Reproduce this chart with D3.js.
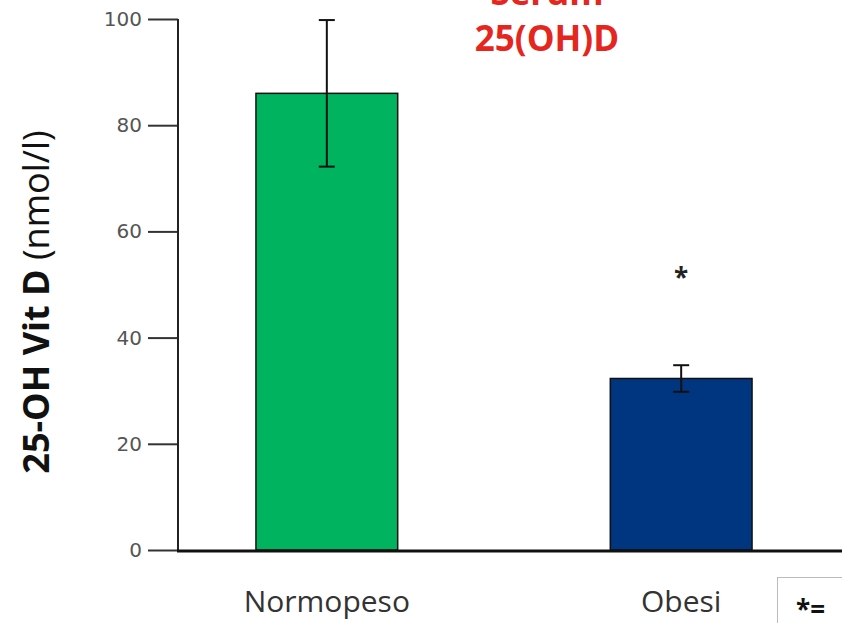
<!DOCTYPE html>
<html>
<head>
<meta charset="utf-8">
<script src="https://cdn.jsdelivr.net/npm/d3@7"></script>
<style>
  body { margin: 0; background: #fff; }
  svg { display: block; }
</style>
</head>
<body>
<div id="chart"></div>
<script>
// values
var categories = ["Normopeso", "Obesi"];
var means = [86, 32.3];
var errors = [13.8, 2.5];
var colors = ["#00b35e", "#003580"];
var yTicks = [0, 20, 40, 60, 80, 100];
var titleLines = ["Serum", "25(OH)D"];

var width = 842;
var height = 623;

var svg = d3.select("#chart").
append("svg").
attr("width", width).
attr("height", height);

var x = d3.scaleBand().
domain(categories).
range([178, 830]).
paddingInner(0.6).
paddingOuter(0.22);

var y = d3.scaleLinear().
domain([0, 100]).
range([550, 19]);

var data = categories.map(function (c, i) {return { name: c, mean: means[i], err: errors[i], color: colors[i] };});

// y axis
var yAxis = svg.append("g").
attr("transform", "translate(178,0)").
call(d3.axisLeft(y).tickValues(yTicks).tickSize(30).tickPadding(6));

yAxis.select(".domain").remove();
yAxis.selectAll(".tick line").
attr("stroke", "#333").
attr("stroke-width", 2);
yAxis.selectAll(".tick text").
attr("fill", "#555").
style("font-family", "DejaVu Sans, sans-serif").
style("font-size", "20px");

svg.append("line").
attr("x1", 178).attr("x2", 178).
attr("y1", y(100)).attr("y2", y(0)).
attr("stroke", "#222").
attr("stroke-width", 2);

// bars
svg.selectAll("rect.bar").
data(data).
enter().
append("rect").
attr("class", "bar").
attr("x", function (d) {return x(d.name);}).
attr("width", x.bandwidth()).
attr("y", function (d) {return y(d.mean);}).
attr("height", function (d) {return y(0) - y(d.mean);}).
attr("fill", function (d) {return d.color;}).
attr("stroke", "#111").
attr("stroke-width", 1.5);

// error bars
var eb = svg.selectAll("g.err").
data(data).
enter().
append("g").
attr("class", "err").
attr("transform", function (d) {return "translate(" + (x(d.name) + x.bandwidth() / 2) + ",0)";});

eb.append("line").
attr("y1", function (d) {return y(d.mean + d.err);}).
attr("y2", function (d) {return y(d.mean - d.err);}).
attr("stroke", "#111").
attr("stroke-width", 2);

eb.selectAll("line.cap").
data(function (d) {return [d.mean + d.err, d.mean - d.err];}).
enter().
append("line").
attr("class", "cap").
attr("x1", -8).attr("x2", 8).
attr("y1", function (v) {return y(v);}).
attr("y2", function (v) {return y(v);}).
attr("stroke", "#111").
attr("stroke-width", 2);

// baseline
svg.append("line").
attr("x1", 177).attr("x2", width).
attr("y1", y(0) + 1).attr("y2", y(0) + 1).
attr("stroke", "#111").
attr("stroke-width", 3);

// significance mark
svg.append("text").
attr("x", x("Obesi") + x.bandwidth() / 2).
attr("y", 287).
attr("text-anchor", "middle").
attr("fill", "#222").
style("font-family", "Open Sans, sans-serif").
style("font-weight", "bold").
style("font-size", "26px").
text("*");

// x labels
svg.selectAll("text.xlab").
data(categories).
enter().
append("text").
attr("class", "xlab").
attr("x", function (d) {return x(d) + x.bandwidth() / 2;}).
attr("y", 612).
attr("text-anchor", "middle").
attr("fill", "#333").
style("font-family", "Open Sans, sans-serif").
style("font-size", "30px").
text(function (d) {return d;});

// title
svg.selectAll("text.title").
data(titleLines).
enter().
append("text").
attr("class", "title").
attr("x", 547).
attr("y", function (d, i) {return 5 + i * 46;}).
attr("text-anchor", "middle").
attr("fill", "#e5261f").
style("font-family", "Open Sans, sans-serif").
style("font-weight", "bold").
style("font-size", "35px").
text(function (d) {return d;});

// y label
var ylab = svg.append("text").
attr("transform", "translate(49,302) rotate(-90)").
attr("text-anchor", "middle").
attr("fill", "#111").
style("font-family", "Open Sans, sans-serif").
style("font-size", "36px");
ylab.append("tspan").style("font-weight", "bold").text("25-OH Vit D ");
ylab.append("tspan").text("(nmol/l)");

// legend box, cut at the edge
svg.append("rect").
attr("x", 777.5).attr("y", 577.5).
attr("width", 80).attr("height", 60).
attr("fill", "#fff").
attr("stroke", "#bbb").
attr("stroke-width", 1);

svg.append("text").
attr("x", 796).
attr("y", 619).
attr("fill", "#111").
style("font-family", "Open Sans, sans-serif").
style("font-weight", "bold").
style("font-size", "26px").
text("*=");
</script>
</body>
</html>
